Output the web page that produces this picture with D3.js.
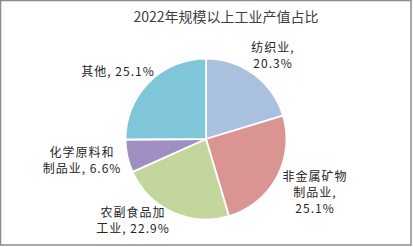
<!DOCTYPE html>
<html>
<head>
<meta charset="utf-8">
<script src="https://cdn.jsdelivr.net/npm/d3@7"></script>
<style>
  body { margin: 0; background: #fff; }
  svg { display: block; font-family: "Noto Sans CJK SC", "Noto Sans", sans-serif; }
</style>
</head>
<body>
<div id="chart"></div>
<script>
var title = "2022年规模以上工业产值占比";
var categories = ["纺织业", "非金属矿物制品业", "农副食品加工业", "化学原料和制品业", "其他"];
var values = [20.3, 25.1, 22.9, 6.6, 25.1];
var colors = ["#a9c1df", "#da9593", "#c3d69b", "#a18fc3", "#80c6d9"];

// label lines, placed by hand like the original
var labelLines = [
  ["纺织业,", "20.3%"],
  ["非金属矿物", "制品业,", "25.1%"],
  ["农副食品加", "工业, 22.9%"],
  ["化学原料和", "制品业, 6.6%"],
  ["其他, 25.1%"]
];
var labelPos = [[273, 48], [315, 177], [133, 213], [82, 153], [118, 72]];

var width = 413, height = 247;
var cx = 206, cy = 139, r = 80.5;

var svg = d3.select("#chart").append("svg")
    .attr("width", width)
    .attr("height", height);

// frame
svg.append("rect")
    .attr("x", 0.5).attr("y", 0.5)
    .attr("width", width - 2.5).attr("height", height - 2.5)
    .attr("fill", "#fff")
    .attr("stroke", "#8c8c8c")
    .attr("stroke-width", 1.5);

svg.append("text")
    .attr("x", 226)
    .attr("y", 22)
    .attr("text-anchor", "middle")
    .attr("fill", "#404040")
    .style("font-size", "14px")
    .text(title);

var pie = d3.pie().sort(null).value(function(d) { return d; });
var arc = d3.arc().innerRadius(0).outerRadius(r);

var g = svg.append("g").attr("transform", "translate(" + cx + "," + cy + ")");

g.selectAll("path")
  .data(pie(values))
  .enter().append("path")
    .attr("d", arc)
    .attr("fill", function(d, i) { return colors[i]; })
    .attr("stroke", "#fff")
    .attr("stroke-width", 1.8)
    .attr("stroke-linejoin", "round");

var labels = svg.selectAll(".lbl")
  .data(labelLines)
  .enter().append("text")
    .attr("class", "lbl")
    .attr("text-anchor", "middle")
    .attr("fill", "#262626")
    .style("font-size", "12px")
    .style("letter-spacing", "1px")
    .attr("transform", function(d, i) { return "translate(" + labelPos[i][0] + "," + labelPos[i][1] + ")"; });

labels.selectAll("tspan")
  .data(function(d) { return d; })
  .enter().append("tspan")
    .attr("x", 0)
    .attr("y", function(d, i) { return i * 16 + 4; })
    .text(function(d) { return d; });
</script>
</body>
</html>
